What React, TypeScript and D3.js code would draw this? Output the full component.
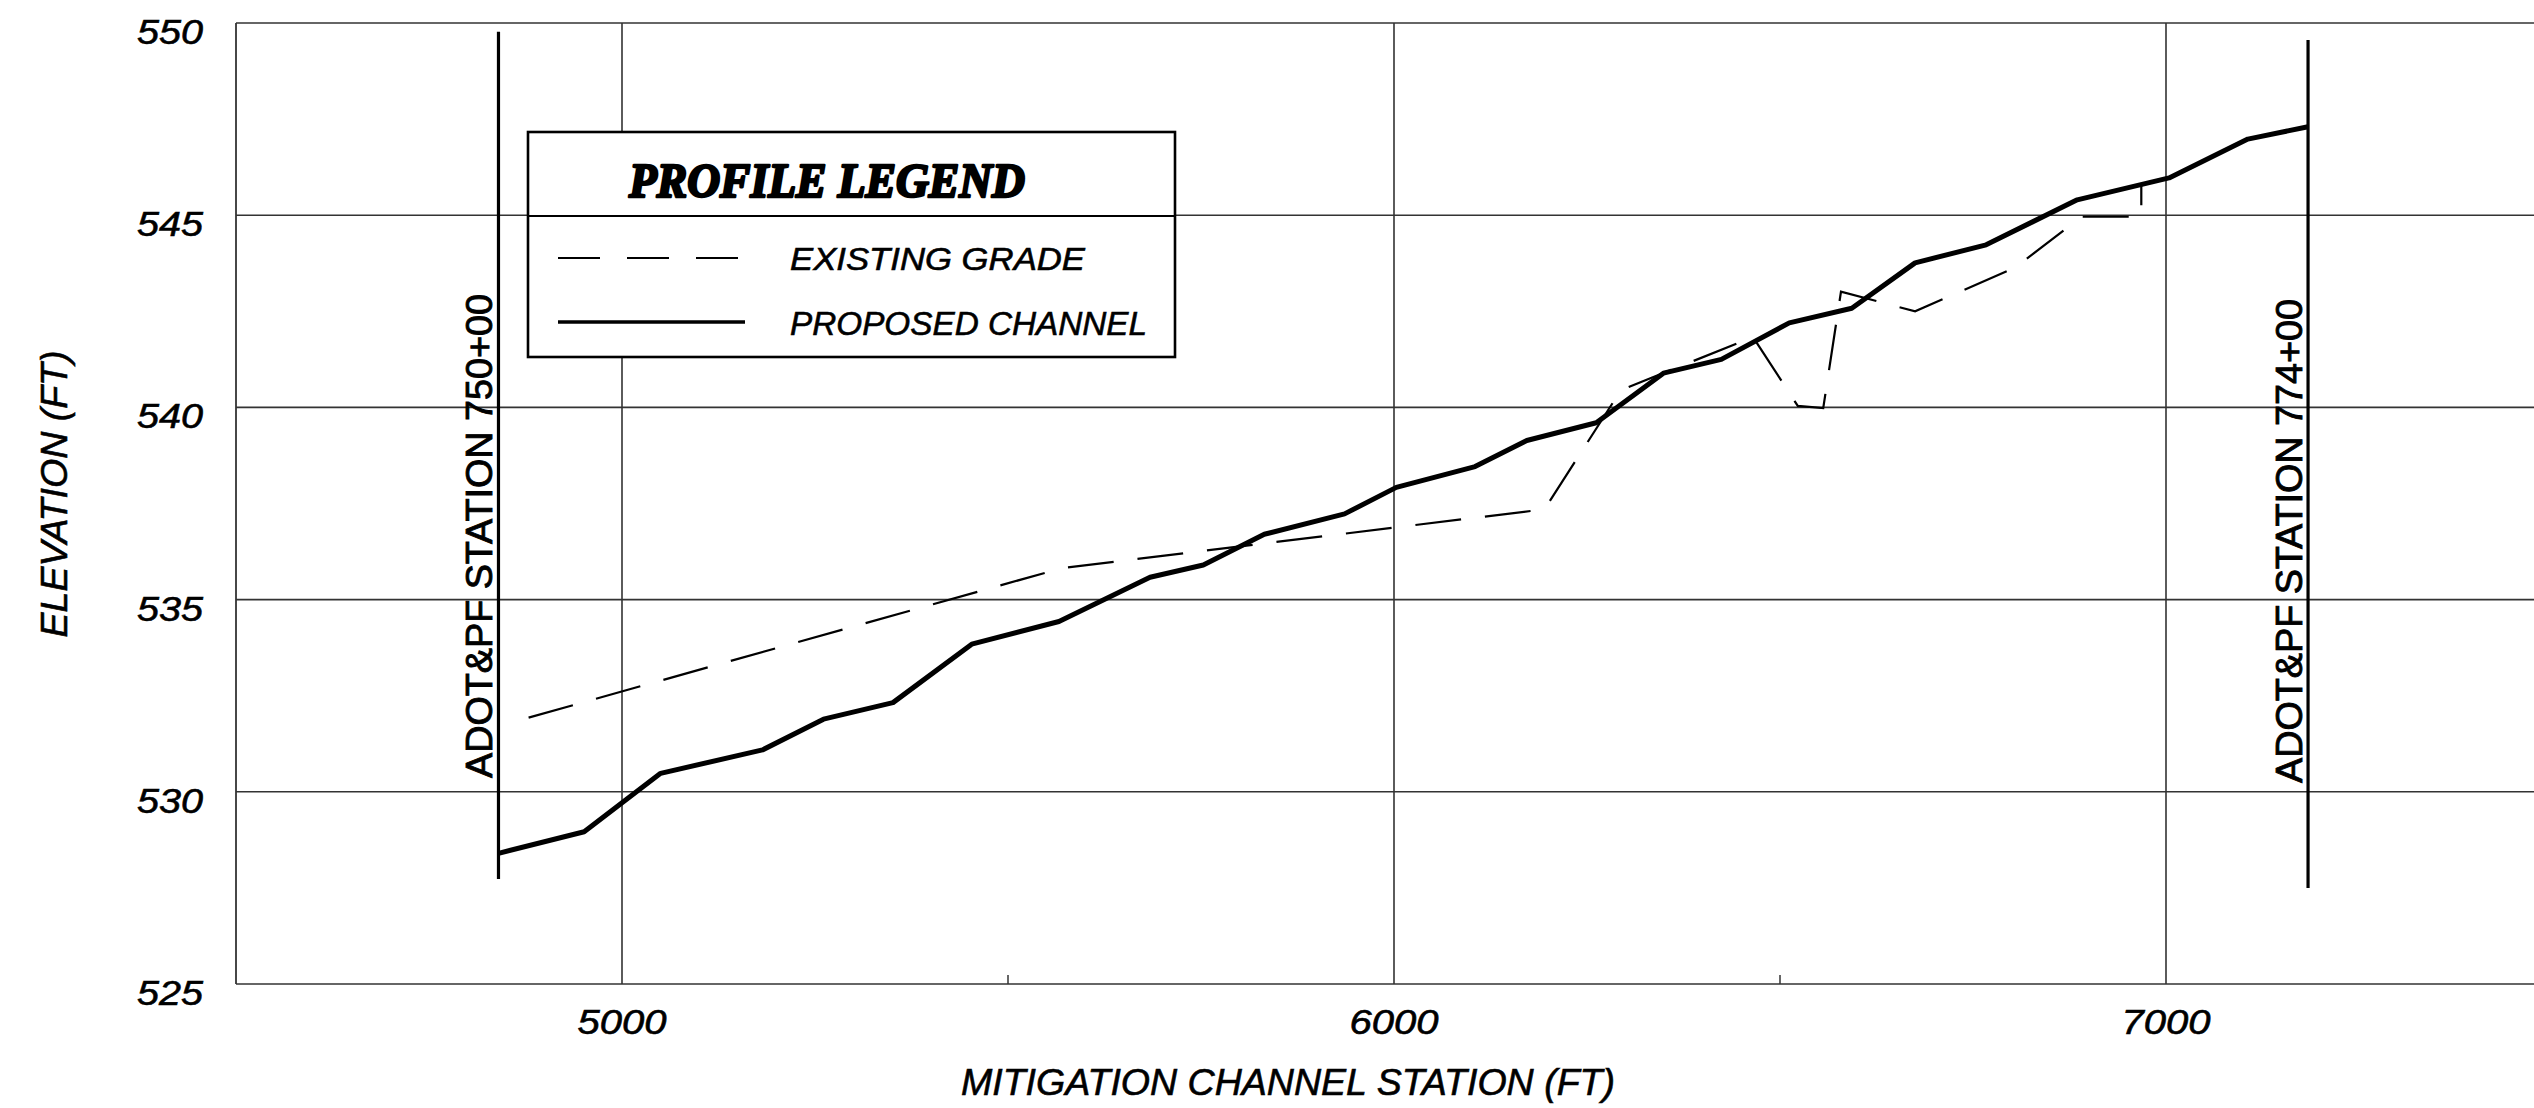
import React from 'react';
import * as d3 from 'd3';

// ---- data ----
const xTicks = [5000, 6000, 7000];
const xMinorTicks = [5500, 6500];
const yTicks = [525, 530, 535, 540, 545, 550];

const proposedStation = [4840, 4951, 5050, 5182, 5261, 5351, 5453, 5566, 5684, 5753, 5832, 5936, 6003, 6105, 6172, 6262, 6349, 6424, 6512, 6593, 6675, 6767, 6885, 7004, 7106, 7184];
const proposedElev = [528.4, 528.96, 530.48, 531.09, 531.89, 532.32, 533.84, 534.43, 535.58, 535.9, 536.7, 537.23, 537.92, 538.46, 539.14, 539.6, 540.89, 541.25, 542.2, 542.58, 543.76, 544.23, 545.4, 545.97, 546.98, 547.3];

const existingStation = [4879, 5570, 6195, 6294, 6465, 6523, 6556, 6579, 6675, 6804, 6891, 6968, 6968];
const existingElev = [531.93, 535.82, 537.35, 540.45, 541.83, 540.04, 539.98, 543.01, 542.5, 543.63, 544.96, 544.96, 545.8];

const stationLineStations = [4840, 7184];
const stationLineLabels = ['ADOT&PF STATION 750+00', 'ADOT&PF STATION 774+00'];
const stationLineTop = [549.77, 549.56];
const stationLineBottom = [527.73, 527.5];

const xTitle = 'MITIGATION CHANNEL STATION (FT)';
const yTitle = 'ELEVATION (FT)';
const legendTitle = 'PROFILE LEGEND';
const legendLabels = ['EXISTING GRADE', 'PROPOSED CHANNEL'];

export default function App() {
  const W = 2534;
  const H = 1108;
  const x = d3.scaleLinear().domain([4500, 7500]).range([236, 2552]);
  const y = d3.scaleLinear().domain([525, 550]).range([984, 23]);

  const line = d3
    .line<[number, number]>()
    .x((d) => x(d[0]))
    .y((d) => y(d[1]));

  const proposed = proposedStation.map((s, i) => [s, proposedElev[i]] as [number, number]);
  const existing = existingStation.map((s, i) => [s, existingElev[i]] as [number, number]);

  const sans = 'Liberation Sans, Arial, sans-serif';
  const gridColor = '#333';
  const txtStroke = { stroke: '#000', strokeWidth: 0.6 };

  return (
    <svg
      width={W}
      height={H}
      style={{ position: 'absolute', left: 0, top: 0, background: '#fff' }}
    >
      <rect x={0} y={0} width={W} height={H} fill="#fff" />

      {/* horizontal grid / frame */}
      {yTicks.map((v) => (
        <line key={'h' + v} x1={x(4500)} x2={W} y1={y(v)} y2={y(v)} stroke={gridColor} strokeWidth={1.6} />
      ))}
      {/* left frame */}
      <line x1={x(4500)} x2={x(4500)} y1={y(550)} y2={y(525)} stroke={gridColor} strokeWidth={1.8} />
      {/* vertical grid */}
      {xTicks.map((v) => (
        <line key={'v' + v} x1={x(v)} x2={x(v)} y1={y(550)} y2={y(525)} stroke={gridColor} strokeWidth={1.6} />
      ))}
      {xMinorTicks.map((v) => (
        <line key={'m' + v} x1={x(v)} x2={x(v)} y1={y(525)} y2={y(525) - 9} stroke={gridColor} strokeWidth={1.5} />
      ))}

      {/* y tick labels */}
      {yTicks.map((v) => (
        <text
          key={'yl' + v}
          x={203}
          y={y(v) + 21}
          textAnchor="end"
          fontFamily={sans}
          fontStyle="italic"
          fontSize={35}
          textLength={66}
          lengthAdjust="spacingAndGlyphs"
          fill="#000"
          {...txtStroke}
        >
          {v}
        </text>
      ))}
      {/* x tick labels */}
      {xTicks.map((v) => (
        <text
          key={'xl' + v}
          x={x(v)}
          y={1034}
          textAnchor="middle"
          fontFamily={sans}
          fontStyle="italic"
          fontSize={35}
          textLength={89}
          lengthAdjust="spacingAndGlyphs"
          fill="#000"
          {...txtStroke}
        >
          {v}
        </text>
      ))}

      {/* axis titles */}
      <text
        x={1288}
        y={1095}
        textAnchor="middle"
        fontFamily={sans}
        fontStyle="italic"
        fontSize={37}
        textLength={654}
        lengthAdjust="spacingAndGlyphs"
        fill="#000"
        {...txtStroke}
      >
        {xTitle}
      </text>
      <text
        transform="translate(67,494) rotate(-90)"
        textAnchor="middle"
        fontFamily={sans}
        fontStyle="italic"
        fontSize={37}
        textLength={287}
        lengthAdjust="spacingAndGlyphs"
        fill="#000"
        {...txtStroke}
      >
        {yTitle}
      </text>

      {/* station lines */}
      {stationLineStations.map((s, i) => (
        <g key={'st' + i}>
          <line
            x1={x(s)}
            x2={x(s)}
            y1={y(stationLineTop[i])}
            y2={y(stationLineBottom[i])}
            stroke="#000"
            strokeWidth={3.2}
          />
          <text
            transform={`translate(${x(s) - 6},${i === 0 ? 536 : 541}) rotate(-90)`}
            textAnchor="middle"
            fontFamily={sans}
            fontSize={37}
            textLength={484}
            lengthAdjust="spacingAndGlyphs"
            fill="#000"
            stroke="#000"
            strokeWidth={0.9}
          >
            {stationLineLabels[i]}
          </text>
        </g>
      ))}

      {/* existing grade */}
      <path
        d={line(existing) || ''}
        fill="none"
        stroke="#000"
        strokeWidth={2.2}
        strokeDasharray="46,24"
      />
      {/* proposed channel */}
      <path
        d={line(proposed) || ''}
        fill="none"
        stroke="#000"
        strokeWidth={5}
        strokeLinejoin="round"
      />

      {/* legend */}
      <g>
        <rect x={528} y={132} width={647} height={225} fill="#fff" stroke="#000" strokeWidth={2.6} />
        <line x1={528} x2={1175} y1={216} y2={216} stroke="#000" strokeWidth={2.2} />
        <text
          x={629}
          y={197}
          fontFamily="Liberation Serif, DejaVu Serif, serif"
          fontWeight="bold"
          fontStyle="italic"
          fontSize={48}
          textLength={396}
          lengthAdjust="spacingAndGlyphs"
          stroke="#000"
          strokeWidth={2.6}
          strokeLinejoin="round"
          fill="#000"
        >
          {legendTitle}
        </text>
        <line x1={558} x2={745} y1={258} y2={258} stroke="#000" strokeWidth={2} strokeDasharray="42,27" />
        <text
          x={790}
          y={270}
          fontFamily={sans}
          fontStyle="italic"
          fontSize={32}
          textLength={295}
          lengthAdjust="spacingAndGlyphs"
          fill="#000"
          {...txtStroke}
        >
          {legendLabels[0]}
        </text>
        <line x1={558} x2={745} y1={322} y2={322} stroke="#000" strokeWidth={3.5} />
        <text
          x={790}
          y={335}
          fontFamily={sans}
          fontStyle="italic"
          fontSize={33}
          textLength={357}
          lengthAdjust="spacingAndGlyphs"
          fill="#000"
          {...txtStroke}
        >
          {legendLabels[1]}
        </text>
      </g>
    </svg>
  );
}
